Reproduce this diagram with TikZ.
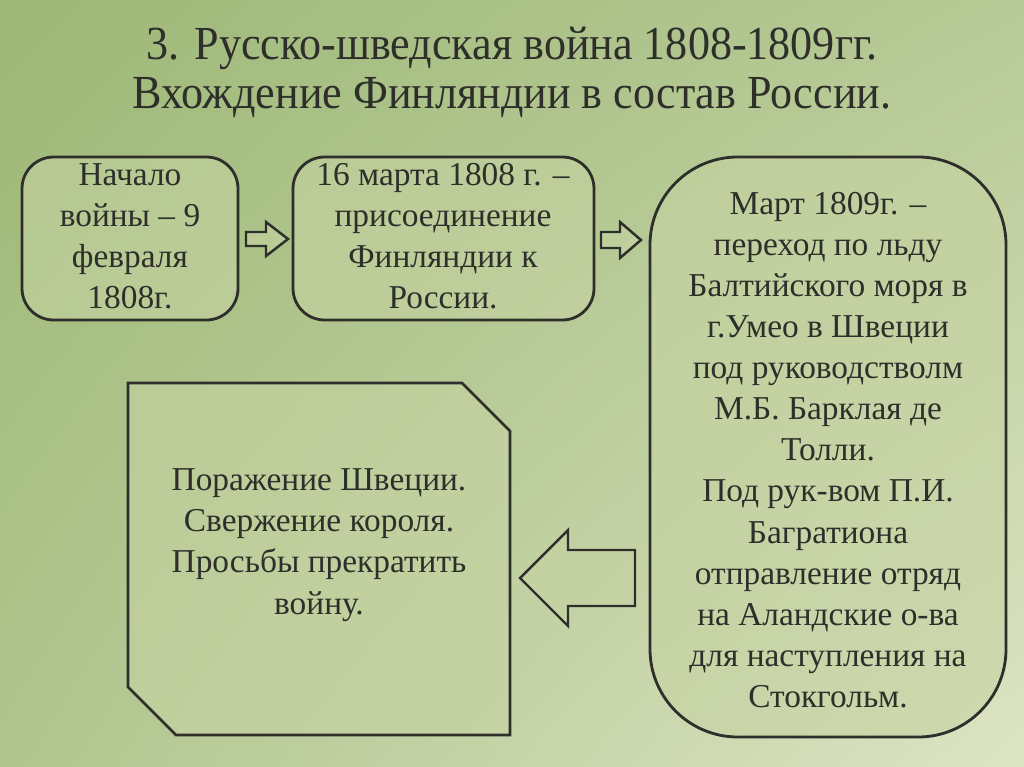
\documentclass[tikz,border=0pt]{standalone}
\usepackage{fontspec}
\setmainfont{Liberation Serif}
\usetikzlibrary{shadings}
\definecolor{bgdark}{HTML}{9DB877}
\definecolor{bglight}{HTML}{DDE4C4}
\definecolor{boxfill}{HTML}{C6D3A2}
\definecolor{ink}{HTML}{2E2E2A}
\tikzset{
  box/.style={draw=ink, line width=1.6pt, fill=boxfill, fill opacity=0.6, text opacity=1},
  boxtext/.style={text=ink, align=center, font=\fontsize{19}{23.4}\selectfont},
  hollowarrow/.style={draw=ink, line width=1.4pt, fill=boxfill, fill opacity=0.6}
}
\begin{document}
\begin{tikzpicture}[x=0.02cm,y=-0.02cm]
    \useasboundingbox (0,0) rectangle (1024,767);
    \shade[upper left=bgdark, lower left=bgdark!70!bglight, upper right=bgdark!60!bglight, lower right=bglight] (0,0) rectangle (1024,767);

    % title
    \node[text=ink, align=center, xscale=0.93, font=\fontsize{27}{28}\selectfont] (title) at (512,72)
        {3. Русско-шведская война 1808-1809гг.\\Вхождение Финляндии в состав России.};

    % boxes of the first row
    \draw[box, rounded corners=18] (22,157) rectangle (238,320);
    \node[boxtext] (start) at (130,236) {Начало\\войны – 9\\февраля\\1808г.};

    \draw[box, rounded corners=18] (293,157) rectangle (594,320);
    \node[boxtext] (join) at (443,236) {16 марта 1808 г. –\\присоединение\\Финляндии к\\России.};

    \draw[box, rounded corners=50] (650,157) rectangle (1006,737);
    \node[boxtext] (march) at (828,450) {Март 1809г. –\\переход по льду\\Балтийского моря в\\г.Умео в Швеции\\под руководстволм\\М.Б. Барклая де\\Толли.\\Под рук-вом П.И.\\Багратиона\\отправление отряд\\на Аландские о-ва\\для наступления на\\Стокгольм.};

    \draw[box] (128,383) -- (462,383) -- (510,431) -- (510,735) -- (176,735) -- (128,687) -- cycle;
    \node[boxtext] (defeat) at (319,545) {Поражение Швеции.\\Свержение короля.\\Просьбы прекратить\\войну.};

    % arrows
    \draw[hollowarrow] (246,232) -- (266,232) -- (266,222) -- (288,239) -- (266,256) -- (266,246) -- (246,246) -- cycle;
    \draw[hollowarrow] (601,232) -- (620,232) -- (620,222) -- (641,240) -- (620,258) -- (620,248) -- (601,248) -- cycle;
    \draw[hollowarrow] (635,550) -- (568,550) -- (568,530) -- (520,578) -- (568,626) -- (568,606) -- (635,606) -- cycle;
\end{tikzpicture}
\end{document}
